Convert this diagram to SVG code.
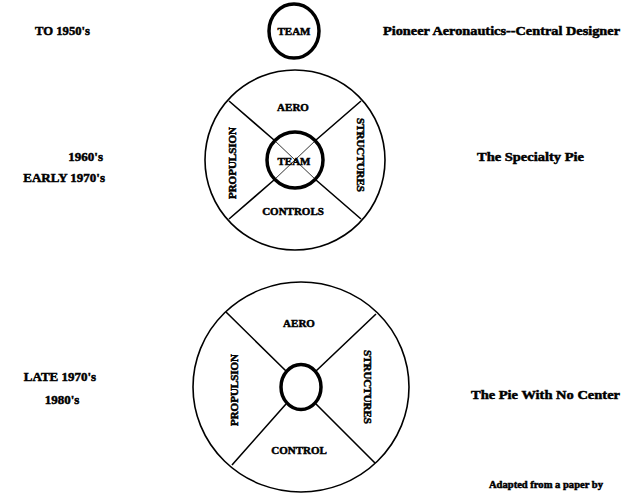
<svg xmlns="http://www.w3.org/2000/svg" width="636" height="493" viewBox="0 0 636 493">
<style>
.t{font-family:"Liberation Serif","Times New Roman",serif;font-weight:bold;fill:#000;stroke:#000;stroke-width:0.5}
.lbl{font-size:13px}
.in{font-size:11px;text-anchor:middle}
.ring{fill:none;stroke:#000;stroke-width:1.6}
.hub{fill:none;stroke:#000;stroke-width:3.5}
.ln{stroke:#000;stroke-width:1.6;fill:none}
.thin{stroke:#000;stroke-width:0.8;fill:none}
</style>
<rect width="636" height="493" fill="#fff"/>
<g id="labels-left">
<text class="t lbl" x="35" y="35" textLength="55" lengthAdjust="spacingAndGlyphs">TO 1950's</text>
<text class="t lbl" x="103" y="161" text-anchor="end">1960's</text>
<text class="t lbl" x="105" y="182" text-anchor="end">EARLY 1970's</text>
<text class="t lbl" x="60" y="381" text-anchor="middle">LATE 1970's</text>
<text class="t lbl" x="62" y="404" text-anchor="middle">1980's</text>
</g>
<g id="labels-right">
<text class="t lbl" x="383" y="35" textLength="237" lengthAdjust="spacingAndGlyphs">Pioneer Aeronautics--Central Designer</text>
<text class="t lbl" x="477" y="161" textLength="107" lengthAdjust="spacingAndGlyphs">The Specialty Pie</text>
<text class="t lbl" x="471" y="399" textLength="149" lengthAdjust="spacingAndGlyphs">The Pie With No Center</text>
<text class="t" x="489" y="488" font-size="10" textLength="114" lengthAdjust="spacingAndGlyphs">Adapted from a paper by</text>
</g>
<g id="team-top">
<ellipse class="hub" cx="294" cy="31" rx="25" ry="27" stroke-width="3"/>
<text class="t in" x="294" y="35" font-size="12">TEAM</text>
</g>
<g id="connectors">
<path class="ln" d="M229,101 L274,140 M361,101 L316,140 M229,219 L274,180 M361,219 L316,180"/>
<path class="thin" d="M274,140 L316,180 M316,140 L274,180"/>
<path class="ln" d="M226,312 L286,371 M376,314 L316,371 M232,465 L286,404 M375,463 L316,404"/>
</g>
<g id="specialty-pie">
<circle class="ring" cx="295" cy="160" r="90"/>
<circle class="hub" cx="295" cy="160" r="28"/>
<text class="t in" x="293" y="111">AERO</text>
<text class="t in" x="294" y="165" font-size="12">TEAM</text>
<text class="t in" x="293" y="215">CONTROLS</text>
<text class="t in" transform="translate(361,155) rotate(90)" dy="4">STRUCTURES</text>
<text class="t in" transform="translate(232,163) rotate(-90)" dy="4">PROPULSION</text>
</g>
<g id="no-center-pie">
<ellipse class="ring" cx="301" cy="387" rx="108" ry="105"/>
<ellipse class="hub" cx="301" cy="387" rx="20" ry="22.5"/>
<text class="t in" x="299" y="327">AERO</text>
<text class="t in" x="299" y="454">CONTROL</text>
<text class="t in" transform="translate(368,387) rotate(90)" dy="4">STRUCTURES</text>
<text class="t in" transform="translate(234,390) rotate(-90)" dy="4">PROPULSION</text>
</g>
</svg>
